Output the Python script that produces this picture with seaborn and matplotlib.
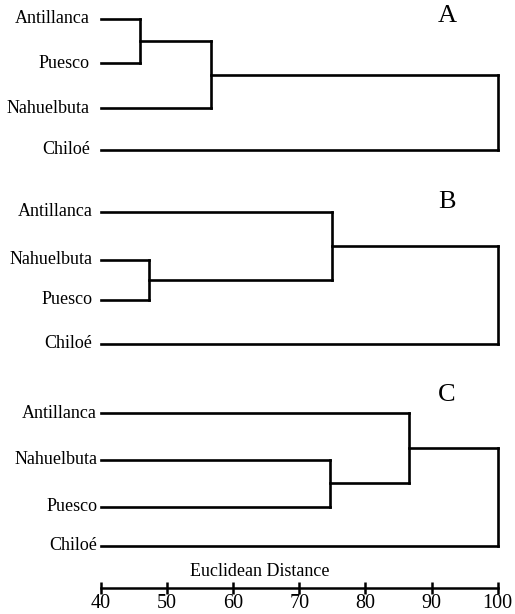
import numpy as np
import pandas as pd
import matplotlib
matplotlib.use("Agg")
import matplotlib.pyplot as plt
import seaborn as sns

# ---- data -------------------------------------------------------------
panel_names = ["A", "B", "C"]
leaves_A = ["Antillanca", "Puesco", "Nahuelbuta", "Chiloé"]
leaves_B = ["Antillanca", "Nahuelbuta", "Puesco", "Chiloé"]
leaves_C = ["Antillanca", "Nahuelbuta", "Puesco", "Chiloé"]
# linkage style merges: (cluster i, cluster j, distance); new clusters numbered 4, 5, 6
merges_A = [(0, 1, 45.9), (4, 2, 56.6), (5, 3, 100.0)]
merges_B = [(1, 2, 47.2), (0, 4, 74.9), (5, 3, 100.0)]
merges_C = [(1, 2, 74.6), (0, 4, 86.6), (5, 3, 100.0)]
axis_ticks = [40, 50, 60, 70, 80, 90, 100]
axis_label = "Euclidean Distance"
leaf_base = 40.0

# ---- layout (pixel rows of the leaves in each panel) -------------------
leaf_rows = [[18.7, 63.3, 108.3, 150.0],
             [211.7, 260.0, 300.0, 344.0],
             [413.3, 460.0, 506.7, 546.0]]
label_rows = [16, 202, 395]
label_gap = [1.7, 1.3, 0.6]

W, H = 515, 614
fig = plt.figure(figsize=(W / 100, H / 100), dpi=100)
sns.set_style("white")
plt.rcParams["font.family"] = ["Liberation Serif", "DejaVu Serif"]
ax = fig.add_axes([0, 0, 1, 1])

px_per_unit = (497.7 - 101.0) / 60.0
ax.set_xlim(40 - 101.0 / px_per_unit, 100 + (W - 497.7) / px_per_unit)
ax.set_ylim(H, 0)

segs = []
sid = 0
panels = [(leaves_A, merges_A), (leaves_B, merges_B), (leaves_C, merges_C)]
for p, (leaves, merges) in enumerate(panels):
    rows = leaf_rows[p]
    pos = {i: (leaf_base, rows[i]) for i in range(len(leaves))}
    nxt = len(leaves)
    for a, b, d in merges:
        xa, ya = pos[a]
        xb, yb = pos[b]
        for x0, y0 in ((xa, ya), (xb, yb)):
            segs.append(dict(x=x0, y=y0, seg=sid)); segs.append(dict(x=d, y=y0, seg=sid)); sid += 1
        segs.append(dict(x=d, y=ya, seg=sid)); segs.append(dict(x=d, y=yb, seg=sid)); sid += 1
        pos[nxt] = (d, (ya + yb) / 2.0)
        nxt += 1
    for i, name in enumerate(leaves):
        ax.text(leaf_base - label_gap[p], rows[i], name, ha="right", va="center",
                fontsize=13, color="black")
    ax.text(92.3, label_rows[p], panel_names[p], ha="center", va="center",
            fontsize=19, color="black")

df = pd.DataFrame(segs)
sns.lineplot(data=df, x="x", y="y", units="seg", estimator=None, sort=False,
             color="black", linewidth=1.9, ax=ax, legend=False)
for l in ax.lines:
    l.set_solid_capstyle("projecting")

ax.set_ylim(H, 0)
for s in ["top", "left", "right"]:
    ax.spines[s].set_visible(False)
ax.spines["bottom"].set_position(("data", 588))
ax.spines["bottom"].set_bounds(axis_ticks[0], axis_ticks[-1])
ax.spines["bottom"].set_linewidth(1.8)
ax.spines["bottom"].set_color("black")
ax.set_xticks(axis_ticks)
ax.set_xticklabels([str(t) for t in axis_ticks], fontsize=14.5)
ax.tick_params(axis="x", bottom=True, direction="inout", length=9, width=1.8,
               pad=-0.5, colors="black")
ax.set_yticks([])
ax.set_xlabel("")
ax.set_ylabel("")
ax.text(64.0, 571, axis_label, ha="center", va="center", fontsize=13, color="black")

fig.savefig("out.png", dpi=100)
